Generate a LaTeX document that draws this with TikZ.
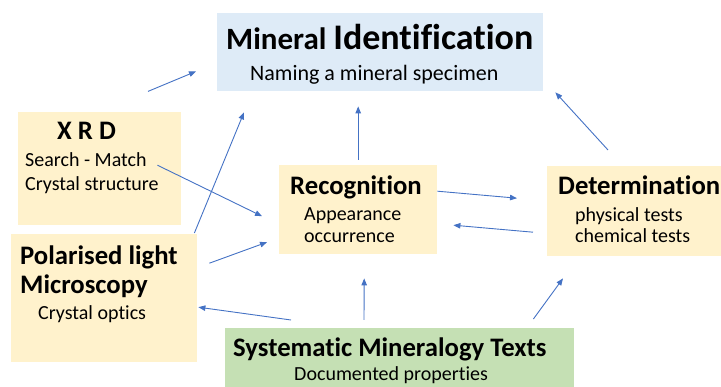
\documentclass[tikz,border=0pt]{standalone}
\usepackage{fontspec}
\setmainfont{Carlito}[Ligatures=CommonOff]
\usetikzlibrary{positioning, calc, arrows.meta}

\definecolor{idblue}{HTML}{DEEBF7}
\definecolor{pale}{HTML}{FFF2CC}
\definecolor{sage}{HTML}{C5E0B4}
\definecolor{linkblue}{HTML}{4472C4}

\begin{document}
\begin{tikzpicture}[
        x=1pt, y=1pt,
        box/.style={rectangle, anchor=north west, inner sep=0pt},
        head/.style={anchor=base west, inner sep=0pt, font=\fontsize{26.7}{30}\selectfont\bfseries},
        body/.style={anchor=base west, inner sep=0pt, font=\fontsize{20}{24}\selectfont},
        link/.style={draw=linkblue, line width=0.9pt, -{Triangle[length=7pt, width=5.5pt]}},
    ]
    \clip (0,0) rectangle (721,387);

    % boxes
    \node[box, fill=idblue, minimum width=326, minimum height=78] (ident) at (217,374) {};
    \node[box, fill=pale, minimum width=163, minimum height=113] (xrd) at (18,275) {};
    \node[box, fill=pale, minimum width=186, minimum height=128] (plm) at (11,153) {};
    \node[box, fill=pale, minimum width=158, minimum height=89] (recog) at (279,222) {};
    \node[box, fill=pale, minimum width=180, minimum height=90] (determ) at (547,221) {};
    \node[box, fill=sage, minimum width=349, minimum height=70] (texts) at (225,59) {};

    % texts inside the boxes
    \node[anchor=base west, inner sep=0pt, font=\bfseries] (identhead) at ($(ident.north west)+(9,-37)$)
        {\fontsize{31}{36}\selectfont Mineral \fontsize{36}{42}\selectfont Identification};
    \node[anchor=base west, inner sep=0pt, font=\fontsize{22}{26}\selectfont] (identsub) at ($(ident.north west)+(33,-68)$)
        {Naming a mineral specimen};

    \node[head] (xrdhead) at ($(xrd.north west)+(39,-28)$) {X R D};
    \node[body] (xrdsearch) at ($(xrd.north west)+(7,-55)$) {Search - Match};
    \node[body] (xrdstruct) at ($(xrd.north west)+(7,-79)$) {Crystal structure};

    \node[head] (plmhead) at ($(plm.north west)+(9,-31)$) {Polarised light};
    \node[head] (plmhead2) at ($(plm.north west)+(9,-60)$) {Microscopy};
    \node[body] (plmoptics) at ($(plm.north west)+(27,-86)$) {Crystal optics};

    \node[head] (recoghead) at ($(recog.north west)+(11,-30)$) {Recognition};
    \node[body] (recogapp) at ($(recog.north west)+(25,-56)$) {Appearance};
    \node[body] (recogocc) at ($(recog.north west)+(25,-78)$) {occurrence};

    \node[head] (determhead) at ($(determ.north west)+(11,-29)$) {Determination};
    \node[body] (determphys) at ($(determ.north west)+(28,-56)$) {physical tests};
    \node[body] (determchem) at ($(determ.north west)+(28,-77)$) {chemical tests};

    \node[head] (textshead) at ($(texts.north west)+(8,-29)$) {Systematic Mineralogy Texts};
    \node[body] (textsdoc) at ($(texts.north west)+(69,-53)$) {Documented properties};

    % arrows
    \coordinate (lone) at ($(ident.south west)+(-69,0)$);
    \draw[link] (lone) -- ($(ident.south west)+(-21,20)$);
    \draw[link] ($(plm.north east)+(-3,1)$) -- ($(ident.south west)+(27,-21)$);
    \draw[link] ($(xrd.east)+(-24,3.5)$) -- ($(recog.west)+(-17,-6.5)$);
    \draw[link] ($(plm.east)+(12,35)$) -- ($(recog.west)+(-12,-32.5)$);
    \draw[link] ($(texts.north west)+(66,8)$) -- ($(plm.east)+(1,-9)$);
    \draw[link] ($(texts.north west)+(139,8)$) -- ($(recog.south)+(6,-24)$);
    \draw[link] ($(texts.north east)+(-41,9)$) -- ($(determ.south west)+(16,-22)$);
    \draw[link] ($(recog.east)+(0,18.5)$) -- ($(determ.west)+(-30,13)$);
    \draw[link] ($(determ.west)+(-14,-21)$) -- ($(recog.east)+(16,-15.5)$);
    \draw[link] ($(recog.north)+(0,5)$) -- ($(ident.south)+(-22,-15)$);
    \draw[link] ($(determ.north west)+(61,16)$) -- ($(ident.south east)+(12,-1)$);
\end{tikzpicture}
\end{document}
